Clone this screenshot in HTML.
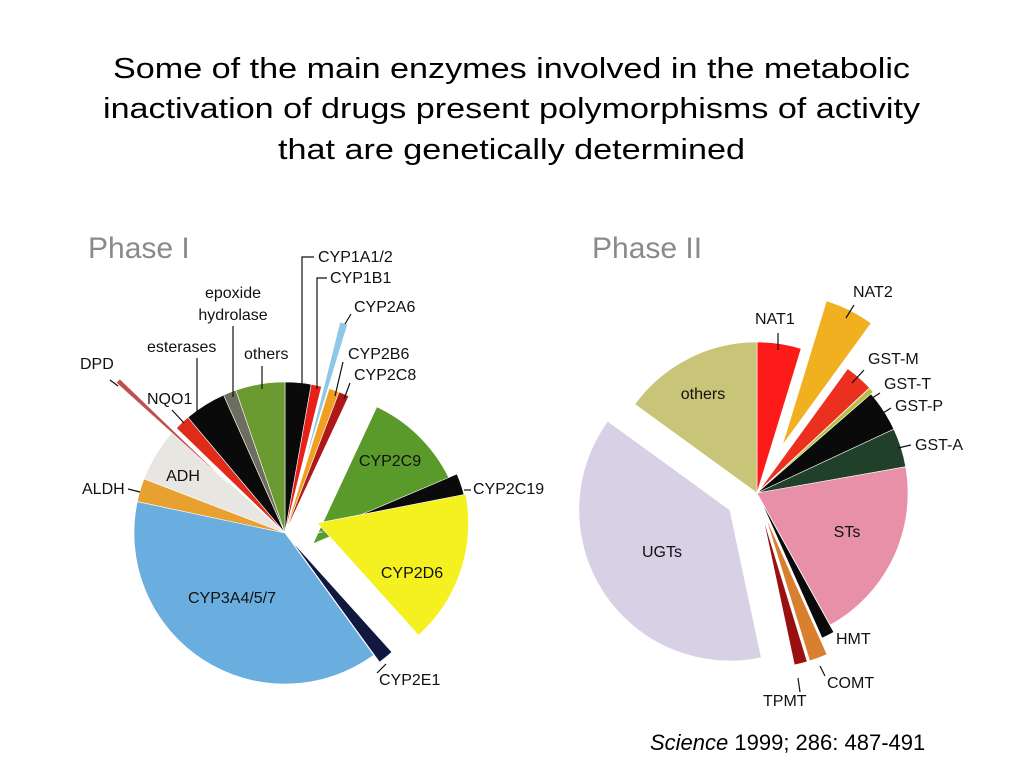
<!DOCTYPE html>
<html><head><meta charset="utf-8"><style>
html,body{margin:0;padding:0;background:#fff;}
svg{display:block;font-family:"Liberation Sans",Arial,sans-serif;}
.lb{font-size:16px;fill:#111;}
.ld{stroke:#111;stroke-width:1.2;fill:none;}
</style></head><body>
<svg id="c" width="1024" height="768" viewBox="0 0 1024 768">
<g style="font-size:29px" fill="#000">
<text x="113" y="78" textLength="797" lengthAdjust="spacingAndGlyphs">Some of the main enzymes involved in the metabolic</text>
<text x="103" y="118" textLength="817" lengthAdjust="spacingAndGlyphs">inactivation of drugs present polymorphisms of activity</text>
<text x="278" y="159" textLength="467" lengthAdjust="spacingAndGlyphs">that are genetically determined</text>
</g>
<text x="88" y="258" fill="#8a8a8a" style="font-size:30px">Phase I</text>
<text x="592" y="258" fill="#8a8a8a" style="font-size:30px">Phase II</text>
<g id="p1"></g>
<g id="p2"></g>
<g>
<text class="lb" x="318" y="262">CYP1A1/2</text><path class="ld" d="M314 257H302V386"/>
<text class="lb" x="330" y="283">CYP1B1</text><path class="ld" d="M327 278H317V389"/>
<text class="lb" x="354" y="312">CYP2A6</text><path class="ld" d="M351 314L345 324"/>
<text class="lb" x="233" y="298" text-anchor="middle">epoxide</text>
<text class="lb" x="233" y="320" text-anchor="middle">hydrolase</text><path class="ld" d="M233 326V397"/>
<text class="lb" x="147" y="352">esterases</text><path class="ld" d="M197 358V413"/>
<text class="lb" x="244" y="359">others</text><path class="ld" d="M262 366V389"/>
<text class="lb" x="80" y="369">DPD</text><path class="ld" d="M110 380L118 386"/>
<text class="lb" x="147" y="404">NQO1</text><path class="ld" d="M172 410L184 423"/>
<text class="lb" x="348" y="359">CYP2B6</text><path class="ld" d="M343 362L335 396"/>
<text class="lb" x="354" y="380">CYP2C8</text><path class="ld" d="M350 383L344 399"/>
<text class="lb" x="390" y="466" text-anchor="middle" fill="#1a2a10">CYP2C9</text>
<text class="lb" x="473" y="494">CYP2C19</text><path class="ld" d="M464 490H471"/>
<text class="lb" x="412" y="578" text-anchor="middle">CYP2D6</text>
<text class="lb" x="379" y="685">CYP2E1</text><path class="ld" d="M377 673L386 664"/>
<text class="lb" x="232" y="603" text-anchor="middle" fill="#102040">CYP3A4/5/7</text>
<text class="lb" x="183" y="481" text-anchor="middle">ADH</text>
<text class="lb" x="82" y="494">ALDH</text><path class="ld" d="M128 489L140 492"/>
</g>
<g>
<text class="lb" x="853" y="297">NAT2</text><path class="ld" d="M854 305L846 318"/>
<text class="lb" x="755" y="324">NAT1</text><path class="ld" d="M778 333V350"/>
<text class="lb" x="868" y="364">GST-M</text><path class="ld" d="M864 370L852 383"/>
<text class="lb" x="884" y="389">GST-T</text><path class="ld" d="M880 393L866 402"/>
<text class="lb" x="895" y="411">GST-P</text><path class="ld" d="M891 408L880 415"/>
<text class="lb" x="915" y="450">GST-A</text><path class="ld" d="M911 445L898 448"/>
<text class="lb" x="703" y="399" text-anchor="middle">others</text>
<text class="lb" x="847" y="537" text-anchor="middle" fill="#301018">STs</text>
<text class="lb" x="662" y="557" text-anchor="middle" fill="#201830">UGTs</text>
<text class="lb" x="836" y="644">HMT</text><path class="ld" d="M832 632L826 626"/>
<text class="lb" x="827" y="688">COMT</text><path class="ld" d="M825 676L820 666"/>
<text class="lb" x="763" y="706">TPMT</text><path class="ld" d="M800 692L798 678"/>
</g>
<text x="650" y="750" style="font-size:22px"><tspan font-style="italic">Science</tspan> 1999; 286: 487-491</text>
</svg>
<script>
// Phase I (slice sizes in degrees of the pie)
const p1Names = ["CYP1A1/2","CYP1B1","CYP2A6","CYP2B6","CYP2C8","CYP2C9","CYP2C19","CYP2D6","CYP2E1","CYP3A4/5/7","ALDH","ADH","DPD","NQO1","esterases","epoxide hydrolase","others"];
const p1Values = [10,4,3,4,4,42,12,59,6,138,9,21,2,6,16,5,19];
const p1Colors = ["#0a0a0a","#e8201c","#8ec8e8","#f0a020","#b01818","#5a9a2a","#0a0a0a","#f5f020","#101840","#6aaee0","#e8a030","#e8e6e0","#c05050","#e02a1a","#0a0a0a","#6e6e60","#6a9a30"];
const p1Explode = [0,0,67,0,0,30,33,34,9,0,0,0,75,0,0,0,0];
const p1ExplodeDir = [0,0,16,0,0,111,90,73,140,0,0,0,311,0,0,0,0];
// Phase II
const p2Names = ["NAT1","NAT2","GST-M","GST-T","GST-P","GST-A","STs","HMT","COMT","TPMT","UGTs","others"];
const p2Values = [17,19,11,2,16,15,71,5,7,5,138,54];
const p2Colors = ["#ff1a1a","#f0b020","#ec3020","#b8c040","#0a0a0a","#20402a","#e890a8","#0a0a0a","#d88030","#9a1010","#d8d0e4","#c8c478"];
const p2Explode = [0,54,3,3,0,0,0,8,25,25,32,0];
const p2ExplodeDir = [0,28,42,48,0,0,0,153,160,166,238,0];

const NS="http://www.w3.org/2000/svg";
function pt(cx,cy,r,a){const t=(a-90)*Math.PI/180;return [cx+r*Math.cos(t),cy+r*Math.sin(t)];}
function drawPie(gid,cx,cy,r,names,vals,cols,ex,exd){
  const g=document.getElementById(gid);
  const total=vals.reduce((s,v)=>s+v,0);
  let a=0;
  vals.forEach((v,i)=>{
    const a0=a,a1=a+v/total*360;a=a1;
    const o=pt(0,0,ex[i],exd[i]);
    const x=cx+o[0],y=cy+o[1];
    const p0=pt(x,y,r,a0),p1=pt(x,y,r,a1);
    const d=`M${x},${y}L${p0[0]},${p0[1]}A${r},${r} 0 ${a1-a0>180?1:0} 1 ${p1[0]},${p1[1]}Z`;
    const path=document.createElementNS(NS,"path");
    path.setAttribute("d",d);
    path.setAttribute("fill",cols[i]);
    path.setAttribute("stroke","#fff");
    path.setAttribute("stroke-width","0.6");
    
    
    g.appendChild(path);
  });
}
drawPie("p1",285,533,151,p1Names,p1Values,p1Colors,p1Explode,p1ExplodeDir);
drawPie("p2",757,493,151,p2Names,p2Values,p2Colors,p2Explode,p2ExplodeDir);
</script>
</body></html>
